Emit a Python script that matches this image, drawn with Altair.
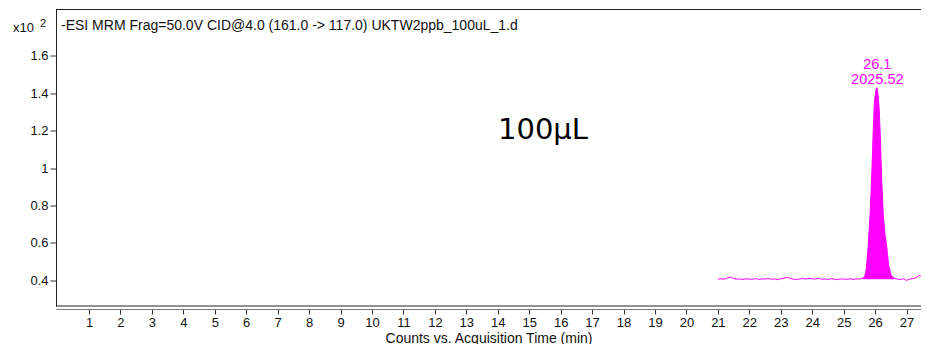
import altair as alt
import pandas as pd

# ---- data ----
base1_t = [21.0, 21.1, 21.2, 21.3, 21.4, 21.5, 21.6, 21.7, 21.8, 21.9,
           22.0, 22.1, 22.2, 22.3, 22.4, 22.5, 22.6, 22.7, 22.8, 22.9,
           23.0, 23.1, 23.2, 23.3, 23.4, 23.5, 23.6, 23.7, 23.8, 23.9,
           24.0, 24.1, 24.2, 24.3, 24.4, 24.5, 24.6, 24.7, 24.8, 24.9,
           25.0, 25.1, 25.2, 25.3, 25.4, 25.5]
base1_v = [0.405, 0.407, 0.404, 0.412, 0.416, 0.408, 0.405, 0.406, 0.403, 0.407,
           0.405, 0.404, 0.408, 0.403, 0.406, 0.405, 0.409, 0.404, 0.406, 0.402,
           0.407, 0.410, 0.415, 0.409, 0.404, 0.403, 0.406, 0.408, 0.405, 0.409,
           0.407, 0.405, 0.410, 0.404, 0.406, 0.403, 0.408, 0.405, 0.402, 0.406,
           0.405, 0.404, 0.407, 0.403, 0.406, 0.405]

peak_t = [25.60, 25.67, 25.72, 25.78, 25.84, 25.89, 25.94, 25.98, 26.03, 26.06,
          26.09, 26.13, 26.17, 26.21, 26.26, 26.31, 26.37, 26.43, 26.50, 26.56, 26.62]
peak_v = [0.410, 0.420, 0.460, 0.580, 0.750, 0.940, 1.200, 1.360, 1.420, 1.430,
          1.400, 1.320, 1.150, 0.940, 0.750, 0.650, 0.580, 0.480, 0.430, 0.415, 0.410]

base2_t = [26.7, 26.8, 26.9, 27.0, 27.1, 27.2, 27.3, 27.4, 27.45, 27.5, 27.6, 27.7]
base2_v = [0.405, 0.403, 0.407, 0.398, 0.405, 0.408, 0.412, 0.425, 0.420, 0.410, 0.412, 0.410]

peak_baseline = 0.404
peak_rt = "26.1"
peak_area = "2025.52"
x_ticks = list(range(1, 28))
y_ticks = [0.4, 0.6, 0.8, 1.0, 1.2, 1.4, 1.6]
title_text = "-ESI MRM Frag=50.0V CID@4.0 (161.0 -> 117.0) UKTW2ppb_100uL_1.d"

W, H = 865, 296.5
MAG = "#ff00ff"
FONT = "Liberation Sans"

trace = pd.DataFrame({"t": base1_t + peak_t + base2_t, "v": base1_v + peak_v + base2_v})
peak = pd.DataFrame({"t": peak_t, "v": peak_v})
apex = pd.DataFrame({"t": [26.07], "v": [1.43], "rt": [peak_rt], "area": [peak_area]})
one = pd.DataFrame({"k": [0]})

xs = alt.Scale(domain=[-0.05, 27.46], nice=False, zero=False)
ys = alt.Scale(domain=[0.261, 1.849], nice=False, zero=False)

xax = alt.Axis(values=x_ticks, tickCount=40, format="d", grid=False, offset=3, tickSize=5,
               labelOverlap=False, labelFlush=False, labelBound=False,
               domainColor="#777777", tickColor="#333333", labelFontSize=13,
               labelColor="#111111", labelFont=FONT, labelPadding=2,
               title="Counts vs. Acquisition Time (min)", titleFont=FONT,
               titleFontSize=14, titleFontWeight="normal", titleColor="#111111",
               titlePadding=2)
yax = alt.Axis(values=y_ticks, tickCount=20, format="~g", grid=False, tickSize=6,
               labelOverlap=False, labelFlush=False,
               domainColor="#222222", tickColor="#333333", labelFontSize=13,
               labelColor="#111111", labelFont=FONT, labelPadding=2, title=None)

line = alt.Chart(trace).mark_line(color=MAG, strokeWidth=1, clip=True).encode(
    x=alt.X("t:Q", scale=xs, axis=xax),
    y=alt.Y("v:Q", scale=ys, axis=yax),
)
area = alt.Chart(peak).mark_area(color=MAG, opacity=1).encode(
    x=alt.X("t:Q", scale=xs),
    y=alt.Y("v:Q", scale=ys),
    y2=alt.datum(peak_baseline),
)
lab1 = alt.Chart(apex).mark_text(color=MAG, font=FONT, fontSize=14.5, dy=-23).encode(
    x=alt.X("t:Q", scale=xs), y=alt.Y("v:Q", scale=ys), text="rt:N")
lab2 = alt.Chart(apex).mark_text(color=MAG, font=FONT, fontSize=14.5, dy=-8).encode(
    x=alt.X("t:Q", scale=xs), y=alt.Y("v:Q", scale=ys), text="area:N")

top_rule = alt.Chart(one).mark_rule(color="#222222", strokeWidth=1).encode(
    x=alt.value(0), x2=alt.value(W), y=alt.value(0))
bot_rule = alt.Chart(one).mark_rule(color="#222222", strokeWidth=1).encode(
    x=alt.value(0), x2=alt.value(W), y=alt.value(H))

def label(txt, x, y, size=13, align="left", font=FONT, color="#111111"):
    return alt.Chart(one).mark_text(align=align, baseline="middle", font=font,
                                    fontSize=size, color=color).encode(
        x=alt.value(x), y=alt.value(y), text=alt.value(txt))

ttl = label(title_text, 5, 16.5, size=14)
x10 = label("x10", -43, 18)
sup = label("2", -16, 14, size=11)
vol = label("100\u03bcL", 487, 120, size=29, align="center", font="DejaVu Sans", color="#000000")

chart = alt.layer(area, line, lab1, lab2, top_rule, bot_rule, ttl, x10, sup, vol).properties(
    width=W, height=H,
    autosize=alt.AutoSizeParams(type="none"),
    padding={"left": 48, "top": 1.5, "right": 0, "bottom": 38},
).configure_view(stroke=None).configure_axis(labelOverlap=False)

chart.save("out.html", embed_options={"renderer": "svg", "actions": False})
